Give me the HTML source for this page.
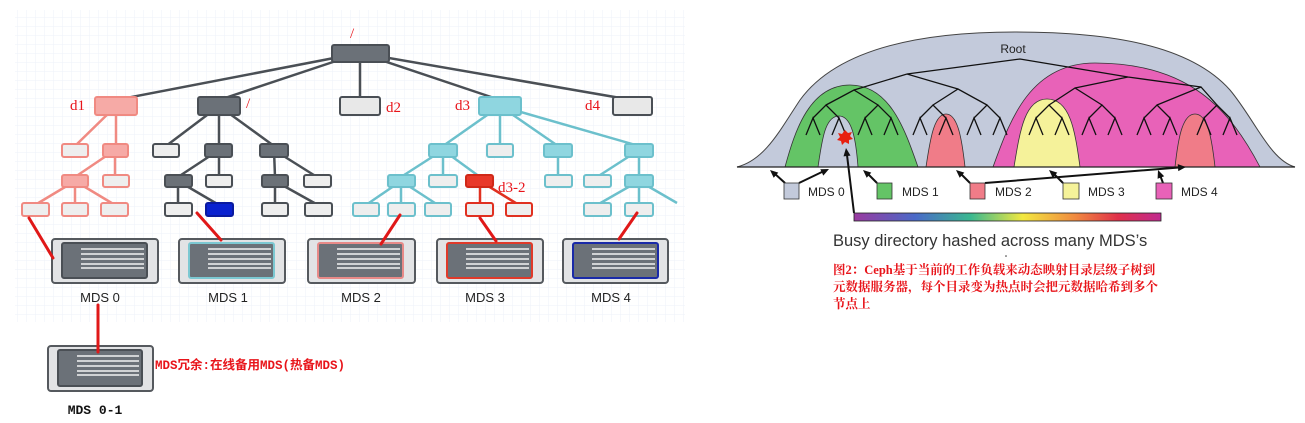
<!DOCTYPE html>
<html><head><meta charset="utf-8"><style>
html,body{margin:0;padding:0;background:#fff;width:1305px;height:423px;overflow:hidden}
svg{display:block}
</style></head><body>
<svg width="1305" height="423" viewBox="0 0 1305 423" xmlns="http://www.w3.org/2000/svg" font-family="Liberation Sans, Arial, sans-serif">
<defs>
<pattern id="g" width="9" height="9" patternUnits="userSpaceOnUse"><path d="M9 0V9H0" fill="none" stroke="#eef2f8" stroke-width="1"/></pattern>
<linearGradient id="rb" x1="0" x2="1" y1="0" y2="0">
<stop offset="0" stop-color="#9a3aa0"/><stop offset="0.2" stop-color="#4a6ac8"/><stop offset="0.38" stop-color="#3ab890"/><stop offset="0.55" stop-color="#f2e840"/><stop offset="0.72" stop-color="#f08a40"/><stop offset="0.86" stop-color="#e0304a"/><stop offset="1" stop-color="#c02a90"/>
</linearGradient>
</defs>
<rect x="15" y="10" width="670" height="312" fill="url(#g)"/>

<g stroke-width="2.5" fill="none">
<g stroke="#4a4f55">
<path d="M360 53L116 100M360 53L219 100M360 53V100M360 53L500 100M360 53L632 100"/>
<path d="M219 106L166 146M219 106V146M219 106L274 146M219 150L178 177M219 150V177M274 150L275 177M274 150L317 177M178 181V205M178 181L219 205M275 181V205M275 181L318 205"/>
</g>
<g stroke="#f08a82"><path d="M116 106L75 146M116 106V146M115 150L75 177M115 150V177M75 181L35 205M75 181V205M75 181L115 205"/></g>
<g stroke="#6cc0cc"><path d="M500 106L443 146M500 106V146M500 106L558 146M500 106L639 146M443 150L401 177M443 150V177M443 150L480 177M401 181L366 205M401 181V205M401 181L438 205M558 150V177M639 150L597 177M639 150V177M639 181L597 205M639 181V205M639 181L677 203"/></g>
<g stroke="#e03020"><path d="M480 181V205M480 181L519 205"/></g>
</g>

<g stroke-width="2">
<rect x="332" y="45" width="57" height="17" rx="2" fill="#6b7178" stroke="#4a4f55"/>
<rect x="95" y="97" width="42" height="18" rx="2" fill="#f6aaa6" stroke="#f08a82"/>
<rect x="198" y="97" width="42" height="18" rx="2" fill="#6b7178" stroke="#4a4f55"/>
<rect x="340" y="97" width="40" height="18" rx="2" fill="#e8e8e8" stroke="#4a4f55"/>
<rect x="479" y="97" width="42" height="18" rx="2" fill="#8fd6e0" stroke="#6cc0cc"/>
<rect x="613" y="97" width="39" height="18" rx="2" fill="#e8e8e8" stroke="#4a4f55"/>
<rect x="62" y="144" width="26" height="13" rx="2" fill="#eee" stroke="#f08a82"/>
<rect x="103" y="144" width="25" height="13" rx="2" fill="#f6aaa6" stroke="#f08a82"/>
<rect x="153" y="144" width="26" height="13" rx="2" fill="#eee" stroke="#4a4f55"/>
<rect x="205" y="144" width="27" height="13" rx="2" fill="#6b7178" stroke="#4a4f55"/>
<rect x="260" y="144" width="28" height="13" rx="2" fill="#6b7178" stroke="#4a4f55"/>
<rect x="429" y="144" width="28" height="13" rx="2" fill="#8fd6e0" stroke="#6cc0cc"/>
<rect x="487" y="144" width="26" height="13" rx="2" fill="#eee" stroke="#6cc0cc"/>
<rect x="544" y="144" width="28" height="13" rx="2" fill="#8fd6e0" stroke="#6cc0cc"/>
<rect x="625" y="144" width="28" height="13" rx="2" fill="#8fd6e0" stroke="#6cc0cc"/>
<rect x="62" y="175" width="26" height="12" rx="2" fill="#f6aaa6" stroke="#f08a82"/>
<rect x="103" y="175" width="26" height="12" rx="2" fill="#eee" stroke="#f08a82"/>
<rect x="165" y="175" width="27" height="12" rx="2" fill="#6b7178" stroke="#4a4f55"/>
<rect x="206" y="175" width="26" height="12" rx="2" fill="#eee" stroke="#4a4f55"/>
<rect x="262" y="175" width="26" height="12" rx="2" fill="#6b7178" stroke="#4a4f55"/>
<rect x="304" y="175" width="27" height="12" rx="2" fill="#eee" stroke="#4a4f55"/>
<rect x="388" y="175" width="27" height="12" rx="2" fill="#8fd6e0" stroke="#6cc0cc"/>
<rect x="429" y="175" width="28" height="12" rx="2" fill="#eee" stroke="#6cc0cc"/>
<rect x="466" y="175" width="27" height="12" rx="2" fill="#e8382a" stroke="#d02818"/>
<rect x="545" y="175" width="27" height="12" rx="2" fill="#eee" stroke="#6cc0cc"/>
<rect x="584" y="175" width="27" height="12" rx="2" fill="#eee" stroke="#6cc0cc"/>
<rect x="625" y="175" width="28" height="12" rx="2" fill="#8fd6e0" stroke="#6cc0cc"/>
<rect x="22" y="203" width="27" height="13" rx="2" fill="#eee" stroke="#f08a82"/>
<rect x="62" y="203" width="26" height="13" rx="2" fill="#eee" stroke="#f08a82"/>
<rect x="101" y="203" width="27" height="13" rx="2" fill="#eee" stroke="#f08a82"/>
<rect x="165" y="203" width="27" height="13" rx="2" fill="#eee" stroke="#4a4f55"/>
<rect x="206" y="203" width="27" height="13" rx="2" fill="#0a22d0" stroke="#0a1aa0"/>
<rect x="262" y="203" width="26" height="13" rx="2" fill="#eee" stroke="#4a4f55"/>
<rect x="305" y="203" width="27" height="13" rx="2" fill="#eee" stroke="#4a4f55"/>
<rect x="353" y="203" width="26" height="13" rx="2" fill="#eee" stroke="#6cc0cc"/>
<rect x="388" y="203" width="27" height="13" rx="2" fill="#eee" stroke="#6cc0cc"/>
<rect x="425" y="203" width="26" height="13" rx="2" fill="#eee" stroke="#6cc0cc"/>
<rect x="466" y="203" width="27" height="13" rx="2" fill="#eee" stroke="#e03020"/>
<rect x="506" y="203" width="26" height="13" rx="2" fill="#eee" stroke="#e03020"/>
<rect x="584" y="203" width="27" height="13" rx="2" fill="#eee" stroke="#6cc0cc"/>
<rect x="625" y="203" width="28" height="13" rx="2" fill="#eee" stroke="#6cc0cc"/>
</g>
<g fill="#e8141a" font-family="Liberation Serif, serif" font-size="15">
<text x="350" y="38">/</text><text x="70" y="110">d1</text><text x="246" y="108">/</text>
<text x="386" y="112">d2</text><text x="455" y="110">d3</text><text x="585" y="110">d4</text>
<text x="498" y="192">d3-2</text>
</g>

<g>
<rect x="52" y="239" width="106" height="44" rx="3" fill="#e2e3e5" stroke="#55595e" stroke-width="2"/>
<rect x="62" y="243" width="85" height="35" rx="2" fill="#6b7178" stroke="#4a4f55" stroke-width="2"/>
<path d="M81 249H144M81 254H144M81 259H144M81 264H144M81 268H144" stroke="#f2f2f2" stroke-width="1.5"/>
<rect x="179" y="239" width="106" height="44" rx="3" fill="#e2e3e5" stroke="#55595e" stroke-width="2"/>
<rect x="189" y="243" width="85" height="35" rx="2" fill="#6b7178" stroke="#7cc8d2" stroke-width="2"/>
<path d="M208 249H271M208 254H271M208 259H271M208 264H271M208 268H271" stroke="#f2f2f2" stroke-width="1.5"/>
<rect x="308" y="239" width="107" height="44" rx="3" fill="#e2e3e5" stroke="#55595e" stroke-width="2"/>
<rect x="318" y="243" width="85" height="35" rx="2" fill="#6b7178" stroke="#e88a88" stroke-width="2"/>
<path d="M337 249H400M337 254H400M337 259H400M337 264H400M337 268H400" stroke="#f2f2f2" stroke-width="1.5"/>
<rect x="437" y="239" width="106" height="44" rx="3" fill="#e2e3e5" stroke="#55595e" stroke-width="2"/>
<rect x="447" y="243" width="85" height="35" rx="2" fill="#6b7178" stroke="#e03a2a" stroke-width="2"/>
<path d="M466 249H529M466 254H529M466 259H529M466 264H529M466 268H529" stroke="#f2f2f2" stroke-width="1.5"/>
<rect x="563" y="239" width="105" height="44" rx="3" fill="#e2e3e5" stroke="#55595e" stroke-width="2"/>
<rect x="573" y="243" width="85" height="35" rx="2" fill="#6b7178" stroke="#1a2aa8" stroke-width="2"/>
<path d="M592 249H655M592 254H655M592 259H655M592 264H655M592 268H655" stroke="#f2f2f2" stroke-width="1.5"/>
<rect x="48" y="346" width="105" height="45" rx="3" fill="#e2e3e5" stroke="#55595e" stroke-width="2"/>
<rect x="58" y="350" width="84" height="36" rx="2" fill="#6b7178" stroke="#4a4f55" stroke-width="2"/>
<path d="M77 356H139M77 361H139M77 366H139M77 371H139M77 375H139" stroke="#f2f2f2" stroke-width="1.5"/>
</g>
<g font-size="13" fill="#222" text-anchor="middle">
<text x="100" y="302">MDS 0</text><text x="228" y="302">MDS 1</text><text x="361" y="302">MDS 2</text><text x="485" y="302">MDS 3</text><text x="611" y="302">MDS 4</text>
</g>
<text x="95" y="414" text-anchor="middle" font-family="Liberation Mono, monospace" font-weight="bold" font-size="13" fill="#111">MDS 0-1</text>
<g stroke="#e01818" stroke-width="3" stroke-linecap="round">
<path d="M29 218L53 258M197 213L221 240M400 215L381 244M480 218L496 241M637 213L619 239"/>
<path d="M98 305V352"/>
</g>
<text x="155" y="369" font-family="Liberation Mono, Noto Sans CJK SC, monospace" font-weight="bold" font-size="12.5" fill="#e8141a">MDS冗余:在线备用MDS(热备MDS)</text>

<path d="M737 167C765 160 780 130 800 100C840 45 930 32 1015 32C1110 32 1190 45 1230 90C1255 120 1270 160 1295 167Z" fill="#c3cadb" stroke="#444" stroke-width="1"/>
<path d="M785 167C795 130 810 85 850 85C890 85 905 130 918 167Z" fill="#64c466" stroke="#333" stroke-width="0.8"/>
<path d="M818 167C822 140 825 116 839 116C852 116 856 140 858 167Z" fill="#c3cadb" stroke="#333" stroke-width="0.8"/>
<path d="M926 167C930 140 934 114 946 114C958 114 962 140 965 167Z" fill="#f07c88" stroke="#333" stroke-width="0.8"/>
<path d="M993 167C1010 120 1030 63 1095 63C1190 63 1230 110 1260 167Z" fill="#e862b8" stroke="#333" stroke-width="0.8"/>
<path d="M1014 167C1020 130 1025 99 1047 99C1070 99 1075 130 1080 167Z" fill="#f5f29a" stroke="#333" stroke-width="0.8"/>
<path d="M1175 167C1178 140 1182 114 1195 114C1208 114 1212 140 1215 167Z" fill="#f07c88" stroke="#333" stroke-width="0.8"/>
<line x1="737" y1="167" x2="1295" y2="167" stroke="#222" stroke-width="1.2"/>
<text x="1013" y="53" text-anchor="middle" font-size="12" fill="#222">Root</text>
<g stroke="#111" stroke-width="1.3" fill="none">
<path d="M907 74L1020 59L1128 77M854 90L907 74L958 89M1075 88L1128 77L1201 87"/>
<path d="M826 105L854 90L878 105M933 105L958 89L987 105M1049 105L1075 88L1102 105M1157 105L1201 87L1217 105"/>
<path d="M813 118L826 105L839 118M865 118L878 105L891 118M920 118L933 105L946 118M974 118L987 105L1000 118M1036 118L1049 105L1062 118M1089 118L1102 105L1115 118M1144 118L1157 105L1170 118M1204 118L1217 105L1230 118"/>
<path d="M806 135L813 118L820 135M832 135L839 118L846 135M858 135L865 118L872 135M884 135L891 118L898 135M913 135L920 118L927 135M939 135L946 118L953 135M967 135L974 118L981 135M993 135L1000 118L1007 135M1029 135L1036 118L1043 135M1055 135L1062 118L1069 135M1082 135L1089 118L1096 135M1108 135L1115 118L1122 135M1137 135L1144 118L1151 135M1163 135L1170 118L1177 135M1197 135L1204 118L1211 135M1223 135L1230 118L1237 135"/>
</g>
<polygon points="845,130 848,133 852,132 850,136 853,139 849,140 849,144 845,142 842,145 841,141 837,140 840,137 838,133 842,134" fill="#e82010"/>
<g stroke="#111" stroke-width="2" fill="none">
<path d="M785 183L774 173M799 183L824 171M877 183L867 173M970 183L960 173M985 183L1179 167.5M1063 183L1053 173M1163 183L1160 175M854 213L847 155"/>
</g>
<g fill="#111">
<polygon points="770,170 778.3,172.6 773.7,177.8"/>
<polygon points="829,169 823.3,175.6 820.3,169.2"/>
<polygon points="863,170 871.3,172.6 866.7,177.8"/>
<polygon points="956,170 964.3,172.6 959.7,177.8"/>
<polygon points="1186,167 1178.3,171.1 1177.7,164.1"/>
<polygon points="1049,170 1057.3,172.6 1052.7,177.8"/>
<polygon points="1158,170 1164.2,176.2 1157.6,178.8"/>
<polygon points="846,148 850.5,155.6 843.5,156.4"/>
</g>
<g stroke="#333" stroke-width="0.8">
<rect x="784" y="183" width="15" height="16" fill="#c3cadb"/>
<rect x="877" y="183" width="15" height="16" fill="#64c466"/>
<rect x="970" y="183" width="15" height="16" fill="#f07c88"/>
<rect x="1063" y="183" width="16" height="16" fill="#f5f29a"/>
<rect x="1156" y="183" width="16" height="16" fill="#e862b8"/>
</g>
<g font-size="12" fill="#222">
<text x="808" y="196">MDS 0</text><text x="902" y="196">MDS 1</text><text x="995" y="196">MDS 2</text><text x="1088" y="196">MDS 3</text><text x="1181" y="196">MDS 4</text>
</g>
<rect x="854" y="213" width="307" height="8" fill="url(#rb)" stroke="#222" stroke-width="0.8"/>
<text x="833" y="246" font-size="16.5" fill="#333">Busy directory hashed across many MDS’s</text>
<circle cx="1006" cy="256" r="0.8" fill="#333"/>
<g font-family="Liberation Serif, Noto Serif CJK SC, serif" font-weight="bold" font-size="12.5" fill="#e8141a">
<text x="833" y="274">图2：Ceph基于当前的工作负载来动态映射目录层级子树到</text>
<text x="833" y="291">元数据服务器，每个目录变为热点时会把元数据哈希到多个</text>
<text x="833" y="308">节点上</text>
</g>
</svg>
</body></html>
